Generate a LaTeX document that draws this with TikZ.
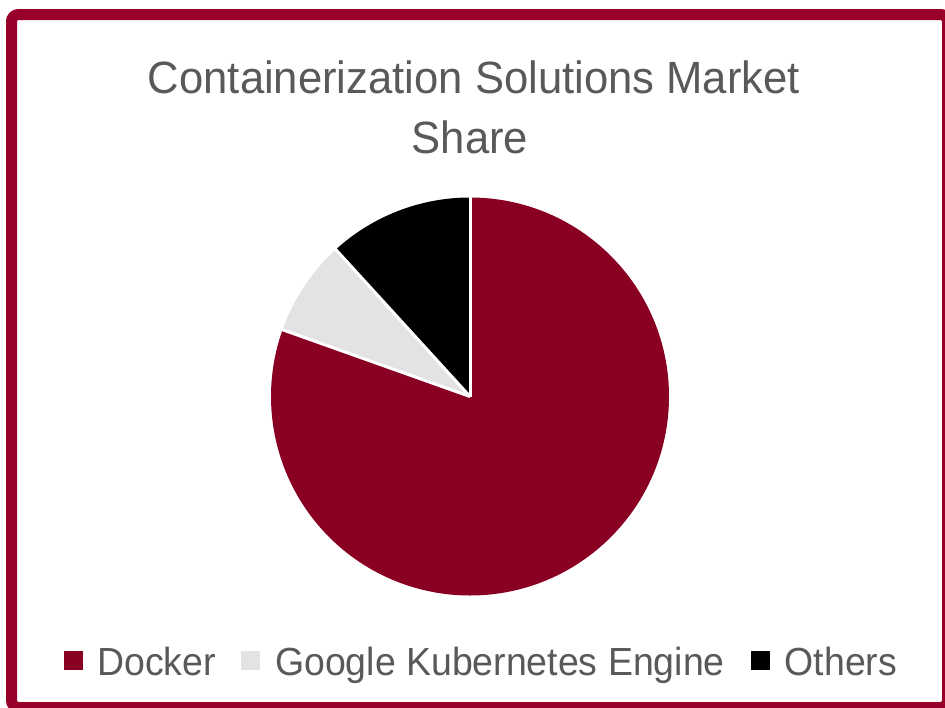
\documentclass[tikz,border=0pt]{standalone}
\usepackage{fontspec}
\usetikzlibrary{calc}
\setmainfont[FakeStretch=0.955]{Liberation Sans}
\newfontfamily\titlefont[FakeStretch=0.965]{Liberation Sans}
\definecolor{framered}{HTML}{990029}
\definecolor{dockerred}{HTML}{8A0023}
\definecolor{gkegray}{HTML}{E2E3E2}
\definecolor{txtgray}{HTML}{595959}
\tikzset{
  slicesep/.style={white, line width=3pt},
  titletext/.style={inner sep=0pt, anchor=base, text=txtgray, font=\titlefont\fontsize{45.2}{50}\selectfont},
  legtext/.style={inner sep=0pt, anchor=base west, text=txtgray, font=\fontsize{39.2}{44}\selectfont},
  legbox/.style={inner sep=0pt, minimum width=19.5pt, minimum height=19pt, anchor=north west}
}
\begin{document}
\begin{tikzpicture}[x=1pt,y=1pt]
\useasboundingbox (0,0) rectangle (945,-707);
\fill[white] (0,0) rectangle (945,-707);
% frame
\draw[framered, line width=11pt, rounded corners=7pt] (11.5,-14.5) rectangle (947.5,-707.5);
% title
\node[titletext] (title1) at (474,-93) {Containerization Solutions Market};
\node[titletext] (title2) at (470,-153) {Share};
% pie
\coordinate (c) at (470,-396.5);
\fill[dockerred] (c) -- ++(90:199) arc[start angle=90, end angle=-199.6, radius=199] -- cycle;
\fill[gkegray] (c) -- ++(160.4:199) arc[start angle=160.4, end angle=132.4, radius=199] -- cycle;
\fill[black] (c) -- ++(132.4:199) arc[start angle=132.4, end angle=90, radius=199] -- cycle;
\coordinate (s1) at ($(c)+(90:200)$);
\coordinate (s2) at ($(c)+(132.4:200)$);
\coordinate (s3) at ($(c)+(160.4:200)$);
\draw[slicesep] (c) -- (s1);
\draw[slicesep] (c) -- (s2);
\draw[slicesep] (c) -- (s3);
% legend
\node[legbox, fill=dockerred] (kd) at (63.5,-651) {};
\node[legtext] (ld) at (97,-675) {Docker};
\node[legbox, fill=gkegray] (kg) at (240.5,-651) {};
\node[legtext] (lg) at (275,-675) {Google Kubernetes Engine};
\node[legbox, fill=black] (ko) at (750.5,-651) {};
\node[legtext] (lo) at (784.5,-675) {Others};
\end{tikzpicture}
\end{document}
